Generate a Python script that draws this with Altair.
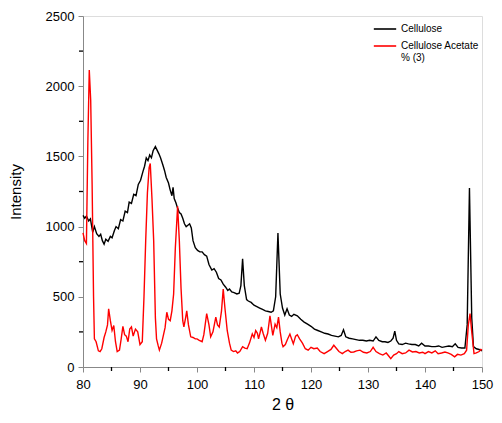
import altair as alt
import pandas as pd

cell_x = [80.0, 80.3, 80.6, 81.0, 81.3, 81.7, 82.0, 82.4, 82.8, 83.1, 83.4, 83.7, 84.0, 84.4, 84.8, 85.1,
          85.5, 85.8, 86.2, 86.6, 87.0, 87.4, 87.8, 88.1, 88.5, 88.9, 89.3, 89.7, 90.1, 90.5, 90.8, 91.1,
          91.4, 91.7, 92.0, 92.3, 92.7, 93.0, 93.3, 93.6, 94.0, 94.3, 94.6, 95.0, 95.3, 95.6, 95.8, 96.0,
          96.3, 96.6, 96.9, 97.2, 97.5, 97.8, 98.1, 98.4, 98.7, 99.0, 99.3, 99.7, 100.1, 100.5, 100.9,
          101.3, 101.7, 102.1, 102.6, 103.0, 103.4, 103.8, 104.2, 104.6, 105.0, 105.4, 105.7, 106.1,
          106.5, 107.0, 107.4, 107.7, 108.0, 108.3, 108.7, 109.0, 109.5, 110.0, 110.5, 111.0, 111.5,
          112.0, 112.5, 113.0, 113.4, 113.8, 114.2, 114.6, 115.0, 115.4, 115.8, 116.2, 116.6, 117.0,
          117.6, 118.2, 118.8, 119.4, 120.0, 120.6, 121.2, 121.8, 122.4, 123.0, 123.6, 124.2, 124.8,
          125.3, 125.7, 126.1, 126.7, 127.3, 127.9, 128.5, 129.1, 129.7, 130.3, 130.9, 131.4, 131.9,
          132.5, 133.0, 133.5, 134.0, 134.4, 134.7, 135.0, 135.4, 136.0, 136.6, 137.1, 137.7, 138.3,
          138.9, 139.4, 140.0, 140.6, 141.2, 141.8, 142.4, 143.0, 143.6, 144.2, 144.8, 145.3, 145.8,
          146.4, 147.0, 147.4, 147.8, 148.2, 148.5, 149.0, 149.5, 150.0]
cell_y = [1080, 1060, 1075, 1040, 1055, 960, 1000, 950, 930, 945, 900, 875, 910, 895, 930, 920,
          970, 1000, 985, 1050, 1040, 1110, 1100, 1175, 1165, 1230, 1220, 1300, 1330, 1390, 1430, 1490,
          1470, 1510, 1490, 1540, 1570, 1545, 1520, 1490, 1440, 1400, 1350, 1310, 1260, 1220, 1280, 1200,
          1170, 1130, 1100, 1090, 1060, 1020, 1000, 1010, 1020, 990, 900, 850, 830, 820, 820,
          800, 790, 730, 690, 700, 675, 630, 620, 590, 570, 545, 555, 535,
          530, 520, 525, 580, 770, 580, 480, 470, 460, 440, 430, 420, 410,
          400, 395, 390, 400, 500, 955, 520, 420, 370, 415, 370, 360, 375,
          365, 340, 320, 305, 290, 270, 260, 250, 240, 235, 225, 220, 215,
          225, 265, 215, 205, 200, 195, 190, 190, 185, 190, 185, 215, 190,
          180, 180, 175, 185, 205, 255, 190, 165, 160, 170, 165, 160, 160,
          150, 170, 150, 150, 145, 145, 150, 140, 145, 150, 145, 165, 140,
          135, 135, 300, 1275, 350, 145, 130, 125, 115]

acet_x = [80.0, 80.3, 80.6, 80.85, 81.1, 81.35, 81.6, 81.85, 82.0, 82.3, 82.7, 83.0, 83.3, 83.7, 84.0,
          84.3, 84.5, 84.8, 85.1, 85.4, 85.7, 86.0, 86.4, 86.7, 87.0, 87.3, 87.6, 87.9, 88.2, 88.5,
          88.8, 89.2, 89.6, 90.0, 90.4, 90.7, 91.0, 91.3, 91.6, 91.8, 92.1, 92.4, 92.7, 92.9, 93.2,
          93.4, 93.8, 94.1, 94.4, 94.7, 95.0, 95.3, 95.6, 95.9, 96.2, 96.6, 96.9, 97.2, 97.5, 97.7,
          98.0, 98.2, 98.5, 98.9, 99.3, 99.7, 100.0, 100.4, 100.9, 101.2, 101.7, 102.1, 102.4, 102.8,
          103.3, 103.6, 103.9, 104.3, 104.6, 104.9, 105.3, 105.7, 106.0, 106.4, 106.8, 107.1, 107.5,
          108.0, 108.4, 108.8, 109.2, 109.7, 110.0, 110.3, 110.6, 110.8, 111.1, 111.3, 111.6, 112.0,
          112.4, 112.8, 113.1, 113.3, 113.7, 114.0, 114.3, 114.6, 114.9, 115.1, 115.5, 115.9, 116.3,
          116.6, 116.9, 117.3, 117.6, 118.0, 118.5, 119.0, 119.5, 120.0, 120.5, 121.1, 121.6, 122.3,
          122.9, 123.5, 124.0, 124.4, 124.9, 125.5, 126.0, 126.5, 127.0, 127.5, 128.0, 128.6, 129.2,
          129.8, 130.4, 130.9, 131.4, 132.0, 132.6, 133.2, 133.6, 134.0, 134.5, 135.0, 135.4, 136.0,
          136.6, 137.2, 137.8, 138.4, 139.0, 139.6, 140.0, 140.6, 141.2, 141.8, 142.3, 142.9, 143.5,
          144.0, 144.6, 145.2, 145.7, 146.3, 146.9, 147.3, 147.6, 147.9, 148.2, 148.6, 149.0, 149.5,
          149.8, 150.0]
acet_y = [955, 900, 880, 1600, 2115, 1900, 1300, 500, 200, 180, 115, 110, 130, 210, 250,
          300, 415, 330, 260, 295, 180, 110, 120, 200, 290, 230, 220, 180, 270, 285,
          220, 270, 250, 160, 180, 500, 900, 1240, 1420, 1450, 1200, 900, 350, 200, 150,
          120, 170, 225, 280, 390, 340, 330, 400, 520, 850, 1145, 900, 560, 330, 285,
          350, 400, 300, 215, 210, 200, 200, 190, 180, 230, 380, 300, 215, 250,
          355, 300, 285, 400, 555, 420, 260, 170, 120, 110, 115, 100, 110,
          145, 135, 130, 170, 235, 210, 260, 240, 200, 250, 285, 240, 190,
          240, 365, 280, 225, 305, 280, 355, 250, 170, 145, 160, 200, 235,
          200, 165, 220, 230, 200, 170, 130, 120, 140, 130, 135, 110, 95,
          110, 125, 155, 135, 110, 95, 110, 120, 105, 107, 115, 120, 105,
          100, 110, 140, 110, 95, 85, 100, 80, 60, 85, 95, 110, 95,
          100, 120, 107, 110, 100, 105, 95, 110, 100, 115, 95, 100, 107,
          100, 90, 72, 90, 85, 95, 120, 300, 380, 250, 95, 100, 110,
          125, 120]

series_names = ["Cellulose", "Cellulose Acetate % (3)"]
x_major = [80, 90, 100, 110, 120, 130, 140, 150]
x_minor = [85, 95, 105, 115, 125, 135, 145]
y_major = [0, 500, 1000, 1500, 2000, 2500]
y_minor = [250, 750, 1250, 1750, 2250]

W, H = 399, 351
FONT = "Liberation Sans"

df = pd.concat([
    pd.DataFrame({"x": cell_x, "y": cell_y, "s": series_names[0], "o": range(len(cell_x))}),
    pd.DataFrame({"x": acet_x, "y": acet_y, "s": series_names[1], "o": range(len(acet_x))}),
])

xscale = alt.Scale(domain=[80, 150], nice=False, zero=False)
yscale = alt.Scale(domain=[0, 2500], nice=False)

lines = alt.Chart(df).mark_line(strokeWidth=1.4).encode(
    x=alt.X("x:Q", scale=xscale,
            axis=alt.Axis(title="2 θ", values=x_major, ticks=True, tickSize=5, grid=False,
                          labelFlush=False, labelPadding=6, titlePadding=5,
                          titleFontSize=16, titleFontWeight="normal", labelFontSize=13)),
    y=alt.Y("y:Q", scale=yscale,
            axis=alt.Axis(title="Intensity", values=y_major, ticks=True, tickSize=5, grid=False,
                          labelFlush=False, labelPadding=4, titlePadding=22, format="d",
                          titleFontSize=15, titleFontWeight="normal", labelFontSize=13)),
    color=alt.Color("s:N", scale=alt.Scale(domain=series_names, range=["#000000", "#ff0000"]),
                    legend=alt.Legend(title=None, orient="none", legendX=W - 109, legendY=1,
                                      symbolType="stroke", symbolStrokeWidth=1.6, symbolSize=500,
                                      labelFontSize=10, labelFont=FONT, rowPadding=-4,
                                      labelExpr="datum.label == 'Cellulose Acetate % (3)' ? ['Cellulose Acetate', '% (3)'] : datum.label")),
    order="o:Q",
    detail="s:N",
)

xminor = alt.Chart(pd.DataFrame({"v": x_minor})).mark_rule(color="#000000", strokeWidth=1.3).encode(
    x=alt.X("v:Q", scale=xscale),
    y=alt.value(H), y2=alt.value(H + 4),
)
yminor = alt.Chart(pd.DataFrame({"v": y_minor})).mark_rule(color="#000000", strokeWidth=1.3).encode(
    y=alt.Y("v:Q", scale=yscale),
    x=alt.value(0), x2=alt.value(-4),
)

chart = alt.layer(lines, xminor, yminor).properties(
    width=W, height=H,
    autosize=alt.AutoSizeParams(type="none"),
    padding={"left": 75, "top": 8, "right": 12, "bottom": 48},
).configure_view(
    stroke="#000000", strokeWidth=1.3
).configure_axis(
    domainColor="#000000", domainWidth=1.3, tickColor="#000000", tickWidth=1.3,
    labelColor="#000000", titleColor="#000000", labelFont=FONT, titleFont=FONT,
).configure(background="white")

chart.save("out.html", embed_options={"renderer": "svg", "actions": False})
